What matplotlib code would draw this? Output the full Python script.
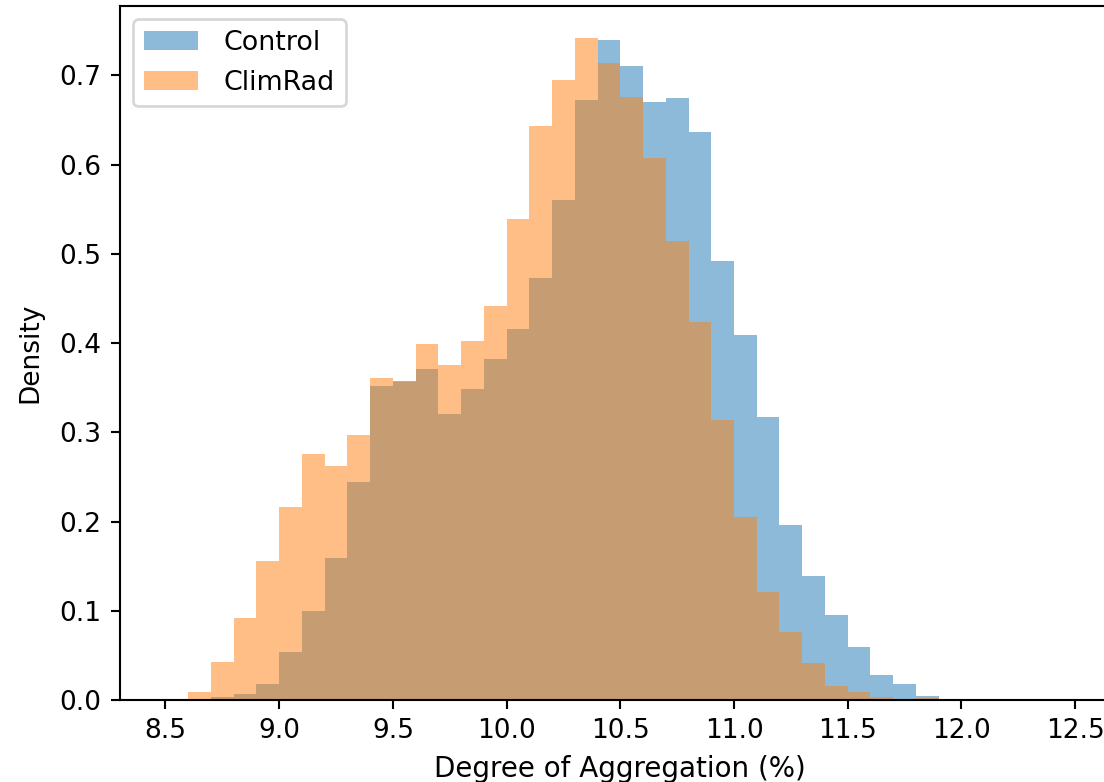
import matplotlib
matplotlib.use("Agg")
import matplotlib.pyplot as plt
import numpy as np

# Bin edges (width 0.1) covering the non-empty bins
bin_edges = [8.6, 8.7, 8.8, 8.9, 9.0, 9.1, 9.2, 9.3, 9.4, 9.5, 9.6, 9.7,
             9.8, 9.9, 10.0, 10.1, 10.2, 10.3, 10.4, 10.5, 10.6, 10.7, 10.8,
             10.9, 11.0, 11.1, 11.2, 11.3, 11.4, 11.5, 11.6, 11.7, 11.8, 11.9]

control = [0.0, 0.003, 0.007, 0.0175, 0.054, 0.0997, 0.159, 0.2445, 0.352,
           0.357, 0.3714, 0.321, 0.3483, 0.3819, 0.4155, 0.4726, 0.5607,
           0.6719, 0.7398, 0.710, 0.670, 0.6741, 0.636, 0.4916, 0.409,
           0.3166, 0.1963, 0.1392, 0.0956, 0.0597, 0.028, 0.0175, 0.004]

climrad = [0.009, 0.043, 0.0915, 0.156, 0.216, 0.276, 0.262, 0.2975, 0.3606,
           0.356, 0.3987, 0.3759, 0.4028, 0.4412, 0.5394, 0.6428, 0.695,
           0.7417, 0.714, 0.676, 0.607, 0.5143, 0.4237, 0.3143, 0.2046,
           0.1206, 0.0765, 0.041, 0.0157, 0.0093, 0.003, 0.001, 0.002]

xticks = [8.5, 9.0, 9.5, 10.0, 10.5, 11.0, 11.5, 12.0, 12.5]
yticks = [0.0, 0.1, 0.2, 0.3, 0.4, 0.5, 0.6, 0.7]

DPI = 190
fig = plt.figure(figsize=(1104 / DPI, 782 / DPI), dpi=DPI)
ax = fig.add_axes([120 / 1104, 82 / 782, 1000.6 / 1104, 694 / 782])

edges = np.array(bin_edges)
widths = np.diff(edges)
ax.bar(edges[:-1], control, width=widths, align="edge", alpha=0.5,
       color="tab:blue", label="Control", linewidth=0)
ax.bar(edges[:-1], climrad, width=widths, align="edge", alpha=0.5,
       color="tab:orange", label="ClimRad", linewidth=0)

ax.set_xlim(8.3, 12.7)
ax.set_ylim(0, 0.7777)
ax.set_xticks(xticks)
ax.set_xticklabels([f"{v:.1f}" for v in xticks])
ax.set_yticks(yticks)
ax.set_yticklabels([f"{v:.1f}" for v in yticks])
ax.set_xlabel("Degree of Aggregation (%)", fontsize=10.5)
ax.set_ylabel("Density", labelpad=6)
ax.legend(loc="upper left", fontsize=10.2, handletextpad=0.95)

fig.savefig("out.png", dpi=DPI)
